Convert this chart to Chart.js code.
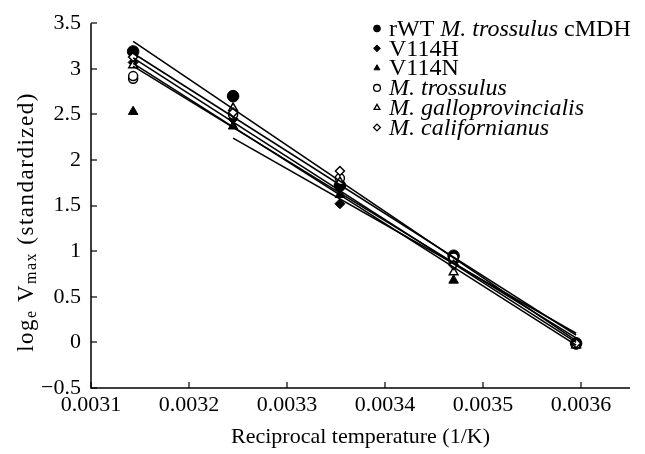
<!DOCTYPE html>
<html>
<head>
<meta charset="utf-8">
<script src="https://cdn.jsdelivr.net/npm/chart.js@4.4.1/dist/chart.umd.min.js"></script>
<style>
  html, body { margin: 0; padding: 0; background: #fff; }
  #wrap { width: 645px; height: 454px; position: relative; }
</style>
</head>
<body>
<div id="wrap"><canvas id="c" width="645" height="454"></canvas></div>
<script>
// Reciprocal temperatures (1/K) for 45, 35, 25, 15, 5 °C
const invT = [0.003143, 0.003245, 0.003354, 0.003470, 0.003595];

// loge Vmax (standardized) per series
const rWT       = [3.19, 2.70, 1.72, 0.95, -0.01];
const V114H     = [3.07, 2.45, 1.52, 0.88, -0.02];
const V114N     = [2.53, 2.37, 1.62, 0.68, -0.03];
const Mtross    = [2.92, 2.50, 1.80, 0.93, -0.02];
const MtrossRep = [2.89];            // replicate at 45 °C
const Mgallo    = [3.04, 2.57, 1.76, 0.77, -0.03];
const Mcalif    = [3.13, 2.52, 1.88, 0.85, -0.01];

// regression lines (start x, start y, end x, end y)
const fitX0 = [0.003143, 0.003143, 0.003143, 0.003143, 0.003143, 0.003245];
const fitY0 = [3.30, 3.17, 3.12, 3.06, 3.03, 2.24];
const fitX1 = [0.003595, 0.003595, 0.003595, 0.003595, 0.003595, 0.003595];
const fitY1 = [0.02, 0.08, 0.00, -0.03, 0.05, 0.10];

const xTicks = [0.0031, 0.0032, 0.0033, 0.0034, 0.0035, 0.0036];
const yTicks = [-0.5, 0, 0.5, 1, 1.5, 2, 2.5, 3, 3.5];

const legendItems = [
  { parts: [["rWT ", false], ["M.", true], [" ", false], ["trossulus", true], [" cMDH", false]], style: 'circle', filled: true },
  { parts: [["V114H", false]], style: 'rectRot', filled: true },
  { parts: [["V114N", false]], style: 'triangle', filled: true },
  { parts: [["M.", true], [" ", false], ["trossulus", true]], style: 'circle', filled: false },
  { parts: [["M.", true], [" ", false], ["galloprovincialis", true]], style: 'triangle', filled: false },
  { parts: [["M.", true], [" ", false], ["californianus", true]], style: 'rectRot', filled: false }
];

const FONT = "'Liberation Serif', 'Times New Roman', serif";

function pts(vals, xs) { return vals.map((v, i) => ({ x: (xs || invT)[i], y: v })); }

function markerSet(label, vals, style, filled, radius, xs) {
  return {
    label, data: pts(vals, xs), showLine: false,
    pointStyle: style, pointRadius: radius, pointHoverRadius: radius,
    pointBackgroundColor: filled ? '#000' : '#fff',
    pointBorderColor: '#000', pointBorderWidth: filled ? 1 : 1.5
  };
}

const datasets = [];
for (let i = 0; i < fitY0.length; i++) {
  datasets.push({
    label: 'fit' + i, data: [{ x: fitX0[i], y: fitY0[i] }, { x: fitX1[i], y: fitY1[i] }],
    showLine: true, borderColor: '#000', borderWidth: 1.6, pointRadius: 0, fill: false
  });
}
datasets.push(markerSet('M. californianus', Mcalif, 'rectRot', false, 4.5));
datasets.push(markerSet('M. galloprovincialis', Mgallo, 'triangle', false, 5));
datasets.push(markerSet('M. trossulus', Mtross, 'circle', false, 4.5));
datasets.push(markerSet('M. trossulus rep', MtrossRep, 'circle', false, 4.5, [invT[0]]));
datasets.push(markerSet('V114N', V114N, 'triangle', true, 5.5));
datasets.push(markerSet('V114H', V114H, 'rectRot', true, 5));
datasets.push(markerSet('rWT', rWT, 'circle', true, 5.8));

const customDraw = {
  id: 'customDraw',
  afterDraw(chart) {
    const ctx = chart.ctx;
    const xs = chart.scales.x, ys = chart.scales.y;
    const area = chart.chartArea;
    ctx.save();
    ctx.strokeStyle = '#000';
    ctx.lineWidth = 1.5;
    // axes
    ctx.beginPath();
    ctx.moveTo(area.left, area.top);
    ctx.lineTo(area.left, area.bottom);
    ctx.lineTo(area.right, area.bottom);
    ctx.stroke();
    // inward ticks
    ctx.lineWidth = 1.2;
    xTicks.forEach(v => {
      const px = Math.round(xs.getPixelForValue(v));
      ctx.beginPath(); ctx.moveTo(px, area.bottom); ctx.lineTo(px, area.bottom - 6); ctx.stroke();
    });
    yTicks.forEach(v => {
      const py = Math.round(ys.getPixelForValue(v));
      ctx.beginPath(); ctx.moveTo(area.left, py); ctx.lineTo(area.left + 6, py); ctx.stroke();
    });

    // y axis title (rotated), continuous text
    ctx.fillStyle = '#000';
    ctx.translate(26, 222);
    ctx.rotate(-Math.PI / 2);
    ctx.textBaseline = 'middle';
    ctx.textAlign = 'left';
    if ('letterSpacing' in ctx) ctx.letterSpacing = '1.5px';
    const segs = [
      ["log", `23px ${FONT}`, 0],
      ["e", `16px ${FONT}`, 5],
      [" V", `23px ${FONT}`, 0],
      ["max", `16px ${FONT}`, 5],
      [" (standardized)", `23px ${FONT}`, 0]
    ];
    let total = 0;
    segs.forEach(s => { ctx.font = s[1]; total += ctx.measureText(s[0]).width; });
    let x = -total / 2;
    segs.forEach(s => {
      ctx.font = s[1];
      ctx.fillText(s[0], x, s[2] + 1);
      x += ctx.measureText(s[0]).width;
    });
    ctx.restore();

    // legend
    ctx.save();
    const lx = 377, ly0 = 28.5, dy = 19.8;
    legendItems.forEach((it, i) => {
      const y = ly0 + i * dy;
      ctx.fillStyle = it.filled ? '#000' : '#fff';
      ctx.strokeStyle = '#000';
      ctx.lineWidth = it.filled ? 1 : 1.3;
      Chart.helpers.drawPoint(ctx, { pointStyle: it.style, radius: 3.4, borderWidth: ctx.lineWidth }, lx, y);
      let tx = lx + 12;
      ctx.fillStyle = '#000';
      ctx.textBaseline = 'middle';
      it.parts.forEach(p => {
        ctx.font = (p[1] ? 'italic ' : '') + `24px ${FONT}`;
        ctx.fillText(p[0], tx, y + 1);
        tx += ctx.measureText(p[0]).width;
      });
    });
    ctx.restore();
  }
};

new Chart(document.getElementById('c'), {
  type: 'scatter',
  data: { datasets },
  options: {
    responsive: false,
    animation: false,
    events: [],
    layout: { padding: { top: 20, right: 15, left: 0, bottom: 0 } },
    plugins: { legend: { display: false }, tooltip: { enabled: false } },
    scales: {
      x: {
        type: 'linear', min: 0.0031, max: 0.00365,
        border: { display: false },
        grid: { display: false, drawTicks: false },
        afterBuildTicks(s) { s.ticks = xTicks.map(v => ({ value: v })); },
        ticks: { color: '#000', font: { family: FONT, size: 22 }, padding: 4,
          maxRotation: 0, autoSkip: false,
          callback: v => Number(v).toFixed(4) },
        title: { display: true, text: 'Reciprocal temperature (1/K)', color: '#000',
          font: { family: FONT, size: 22 }, padding: { top: 2, bottom: 4 } },
        afterFit(s) { s.height = 66; }
      },
      y: {
        type: 'linear', min: -0.5, max: 3.5,
        border: { display: false },
        grid: { display: false, drawTicks: false },
        afterBuildTicks(s) { s.ticks = yTicks.map(v => ({ value: v })); },
        ticks: { color: '#000', font: { family: FONT, size: 22 }, padding: 10,
          callback: v => (v < 0 ? '\u2212' + Math.abs(v) : String(v)) },
        afterFit(s) { s.width = 91; }
      }
    }
  },
  plugins: [customDraw]
});
</script>
</body>
</html>
